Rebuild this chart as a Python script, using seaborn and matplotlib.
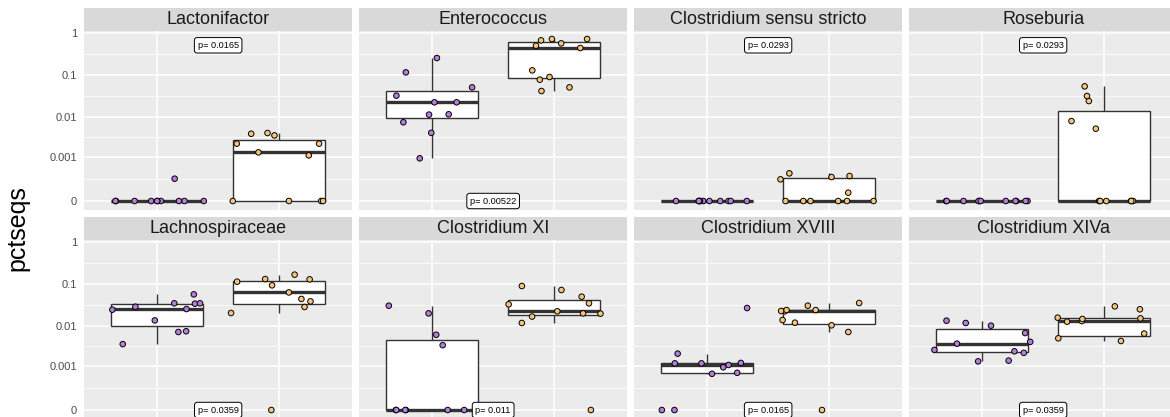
import numpy as np
import pandas as pd
import matplotlib
matplotlib.use("Agg")
import matplotlib.pyplot as plt
import seaborn as sns
from matplotlib.ticker import FixedLocator

# ---------------- data ----------------
taxa = ["Lactonifactor", "Enterococcus", "Clostridium sensu stricto", "Roseburia",
        "Lachnospiraceae", "Clostridium XI", "Clostridium XVIII", "Clostridium XIVa"]
groups = ["group 1", "group 2"]
group_colors = ["#B57EDC", "#F7C47B"]

lactonifactor_g1 = [0, 0, 0, 0, 0, 0, 0, 0, 0, 0, 0.00024]
lactonifactor_g2 = [0.00112, 0.00406, 0.00222, 0.00134, 0.00222, 0.0039, 0.00355, 0, 0, 0, 0]
enterococcus_g1 = [0.1155, 0.254, 0.0507, 0.0322, 0.0223, 0.0223, 0.0115, 0.0113, 0.0074, 0.0041, 0.00094]
enterococcus_g2 = [0.719, 0.668, 0.719, 0.44, 0.499, 0.567, 0.129, 0.0895, 0.0774, 0.0507, 0.0415]
sensu_stricto_g1 = [0, 0, 0, 0, 0, 0, 0, 0, 0, 0, 0]
sensu_stricto_g2 = [0.000228, 0.000356, 0.000294, 0.000272, 0.0000578, 0, 0, 0, 0, 0, 0]
roseburia_g1 = [0, 0, 0, 0, 0, 0, 0, 0, 0, 0, 0]
roseburia_g2 = [0.0239, 0.0315, 0.0536, 0.0079, 0.00517, 0, 0, 0, 0, 0, 0]
lachnospiraceae_g1 = [0.0339, 0.0346, 0.0253, 0.0346, 0.0244, 0.0566, 0.0287, 0.0135, 0.0074, 0.0071, 0.0036]
lachnospiraceae_g2 = [0.167, 0.1135, 0.131, 0.129, 0.093, 0.063, 0.044, 0.0385, 0.0283, 0.0203, 0]
clos_xi_g1 = [0.0199, 0.0304, 0.0061, 0.0034, 0, 0, 0, 0, 0, 0, 0]
clos_xi_g2 = [0.072, 0.0895, 0.0498, 0.0346, 0.0327, 0.0223, 0.0199, 0.0196, 0.0167, 0.0117, 0]
clos_xviii_g1 = [0.0267, 0.0021, 0.00119, 0.00108, 0.00122, 0.00119, 0.00094, 0.00067, 0.00063, 0, 0]
clos_xviii_g2 = [0.0304, 0.0352, 0.0223, 0.0227, 0.0239, 0.0239, 0.0119, 0.0138, 0.0103, 0.0071, 0]
clos_xiva_g1 = [0.0133, 0.0117, 0.0101, 0.0067, 0.0041, 0.0037, 0.0026, 0.0024, 0.0022, 0.00134, 0.0014]
clos_xiva_g2 = [0.0249, 0.0293, 0.0151, 0.0157, 0.013, 0.0146, 0.0126, 0.0065, 0.005, 0.0043, 0]

values = {
    "Lactonifactor": (lactonifactor_g1, lactonifactor_g2),
    "Enterococcus": (enterococcus_g1, enterococcus_g2),
    "Clostridium sensu stricto": (sensu_stricto_g1, sensu_stricto_g2),
    "Roseburia": (roseburia_g1, roseburia_g2),
    "Lachnospiraceae": (lachnospiraceae_g1, lachnospiraceae_g2),
    "Clostridium XI": (clos_xi_g1, clos_xi_g2),
    "Clostridium XVIII": (clos_xviii_g1, clos_xviii_g2),
    "Clostridium XIVa": (clos_xiva_g1, clos_xiva_g2),
}
p_labels = ["p= 0.0165", "p= 0.00522", "p= 0.0293", "p= 0.0293",
            "p= 0.0359", "p= 0.011", "p= 0.0165", "p= 0.0359"]
p_label_at_top = [True, False, True, True, False, False, False, False]
y_breaks = [0, 0.001, 0.01, 0.1, 1]
y_break_labels = ["0", "0.001", "0.01", "0.1", "1"]

EPS = 1e-4


def fwd(v):
    """pseudo-log transform (log10(x + eps) - log10(eps))"""
    return np.log10(1 + np.asarray(v, dtype=float) / EPS)


rows = []
for t in taxa:
    for g, vals in zip(groups, values[t]):
        for v in vals:
            rows.append({"taxon": t, "group": g, "pctseqs": v})
df = pd.DataFrame(rows)
df["pctseqs_t"] = fwd(df["pctseqs"])

# ---------------- style ----------------
sns.set_style("darkgrid", {"axes.facecolor": "#EBEBEB", "grid.color": "white"})
plt.rcParams["font.family"] = ["Liberation Sans", "DejaVu Sans"]

W, H = 1170, 417
fig = plt.figure(figsize=(W / 100, H / 100), dpi=100)
fig.patch.set_facecolor("white")

panel_w = 268.3
lefts = [84 + i * 275 for i in range(4)]
row_geom = [(31, 210, 8), (240, 419, 217)]  # panel top, panel bottom, strip top (px)

major_t = fwd(y_breaks)
minor_t = (major_t[:-1] + major_t[1:]) / 2

np.random.seed(7)
for k, taxon in enumerate(taxa):
    r, c = divmod(k, 4)
    pt, pb, st = row_geom[r]
    ax = fig.add_axes([lefts[c] / W, 1 - pb / H, panel_w / W, (pb - pt) / H])
    sax = fig.add_axes([lefts[c] / W, 1 - pt / H, panel_w / W, (pt - st) / H])
    sub = df[df["taxon"] == taxon]

    sns.boxplot(data=sub, x="group", y="pctseqs_t", order=groups, ax=ax,
                color="white", linecolor="#333333", linewidth=1.0, width=0.75,
                showcaps=False, showfliers=False, whis=1.5,
                medianprops=dict(linewidth=2.4, color="#333333"))
    sns.stripplot(data=sub, x="group", y="pctseqs_t", order=groups, hue="group",
                  hue_order=groups, palette=group_colors, jitter=0.4, size=4.0,
                  linewidth=0.7, edgecolor="black", ax=ax, legend=False, zorder=3)

    ax.set_xlim(-0.6, 1.6)
    ax.set_ylim(-0.214, 4.048)
    ax.yaxis.set_major_locator(FixedLocator(major_t))
    ax.yaxis.set_minor_locator(FixedLocator(minor_t))
    ax.set_axisbelow(True)
    ax.grid(False)
    ax.xaxis.grid(True, which="major", color="white", linewidth=1.1)
    ax.yaxis.grid(True, which="major", color="white", linewidth=1.1)
    ax.yaxis.grid(True, which="minor", color="white", linewidth=0.55)
    for s in ax.spines.values():
        s.set_visible(False)
    ax.set_xlabel("")
    ax.set_ylabel("")
    ax.tick_params(axis="x", length=0, labelbottom=False)
    ax.tick_params(axis="y", which="minor", length=0)
    if c == 0:
        ax.set_yticklabels(y_break_labels)
        ax.tick_params(axis="y", which="major", length=2.9, width=0.6, color="#333333",
                       pad=2.2, labelsize=8, labelcolor="#4D4D4D")
    else:
        ax.tick_params(axis="y", which="major", length=0, labelleft=False)

    y_lab = fwd(0.51) if p_label_at_top[k] else fwd(0)
    ax.text(0.5, y_lab, p_labels[k], ha="center", va="center", fontsize=6.6,
            color="black", zorder=5,
            bbox=dict(boxstyle="round,pad=0.35,rounding_size=0.3", fc="white",
                      ec="black", lw=0.7))

    sax.set_facecolor("#D9D9D9")
    sax.set_xticks([])
    sax.set_yticks([])
    sax.grid(False)
    for s in sax.spines.values():
        s.set_visible(False)
    sax.text(0.5, 0.5, taxon, ha="center", va="center", fontsize=13,
             color="#1A1A1A", transform=sax.transAxes)

fig.text(17 / W, 1 - 228 / H, "pctseqs", rotation=90, ha="center", va="center",
         fontsize=18, color="black")

fig.savefig("out.png", dpi=100)
